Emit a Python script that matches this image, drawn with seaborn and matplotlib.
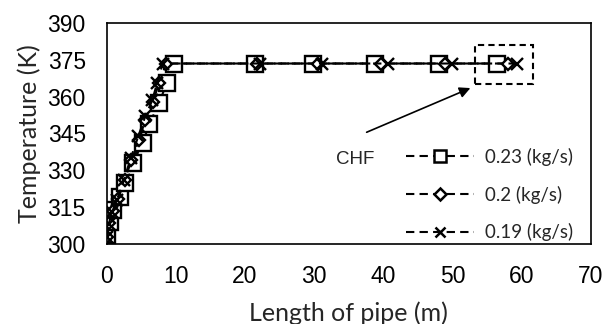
import matplotlib
matplotlib.use("Agg")
import matplotlib.pyplot as plt
import seaborn as sns
import pandas as pd
from matplotlib.patches import Rectangle

# Data
x_023 = [0, 0.5, 1.0, 1.9, 2.7, 3.8, 5.2, 6.2, 7.6, 8.7, 9.8, 21.4, 29.9, 38.8, 48.0, 56.5]
t_023 = [303.5, 309, 314, 319, 325, 333, 341, 349, 357.5, 365.5, 373.5, 373.5, 373.5, 373.5, 373.5, 373.5]
x_020 = [0, 0.4, 0.9, 1.7, 2.6, 3.6, 4.7, 5.6, 6.7, 7.6, 8.6, 21.8, 30.5, 39.7, 49.0, 58.0]
t_020 = [303, 308.5, 313.5, 318.5, 326, 334, 342.5, 350.5, 358, 365.5, 373.5, 373.5, 373.5, 373.5, 373.5, 373.5]
x_019 = [0, 0.3, 0.8, 1.5, 2.5, 3.5, 4.6, 5.6, 6.6, 7.3, 8.1, 22.2, 31.2, 40.7, 50.0, 59.4]
t_019 = [303, 308, 313, 318, 326, 335, 344, 352, 358.5, 365.5, 373.5, 373.5, 373.5, 373.5, 373.5, 373.5]
labels = ["0.23 (kg/s)", "0.2 (kg/s)", "0.19 (kg/s)"]
x_ticks = [0, 10, 20, 30, 40, 50, 60, 70]
y_ticks = [300, 315, 330, 345, 360, 375, 390]

sns.set_theme(style="white")
plt.rcParams['font.family'] = ['Liberation Sans', 'DejaVu Sans']

fig = plt.figure(figsize=(6.09, 3.24), dpi=100)
ax = fig.add_axes([0.175, 0.247, 0.795, 0.682])

series = [(x_023, t_023, 's', 12), (x_020, t_020, 'D', 6.5), (x_019, t_019, 'x', 8.5)]
for (xs, ts, mk, ms), lab in zip(series, labels):
    df = pd.DataFrame({"x": xs, "t": ts})
    sns.lineplot(data=df, x="x", y="t", ax=ax, sort=False, color='black',
                 linestyle=(0, (4, 2.5)), linewidth=1.5, marker=mk, markersize=ms,
                 markerfacecolor='white', markeredgecolor='black', markeredgewidth=1.7,
                 label=lab)

ax.set_xlim(0, 70)
ax.set_ylim(300, 390)
ax.set_xticks(x_ticks)
ax.set_yticks(y_ticks)
ax.tick_params(axis='both', direction='in', length=5, width=1, colors='black',
               labelsize=16.5)
ax.tick_params(axis='x', pad=15)
ax.tick_params(axis='y', pad=15)
for sp in ax.spines.values():
    sp.set_color('black')
    sp.set_linewidth(1.2)

ax.set_xlabel("Length of pipe (m)", fontsize=18, family=['Lato', 'DejaVu Sans'], labelpad=10)
ax.set_ylabel("Temperature (K)", fontsize=18, family=['Lato', 'DejaVu Sans'], labelpad=5)

# CHF box and annotation
ax.add_patch(Rectangle((53.2, 365.1), 8.5, 15.9, fill=False, edgecolor='black',
                       linestyle=(0, (3, 2)), linewidth=1.5))
ax.annotate("", xy=(52.6, 363.5), xytext=(37.6, 345.5),
            arrowprops=dict(arrowstyle='-|>', color='black', lw=1.2, mutation_scale=16,
                            shrinkA=0, shrinkB=0))
ax.text(36.0, 334.5, "CHF", fontsize=13.5, ha='center', va='center', family=['Liberation Sans'])

leg = ax.legend(loc='lower right', bbox_to_anchor=(0.985, -0.035), frameon=False,
                prop={'family': ['Lato', 'DejaVu Sans'], 'size': 13.5},
                handlelength=3.6, labelspacing=1.05, handletextpad=0.6, borderaxespad=0.15)
for h, s in zip(leg.legend_handles, [8, 6, 7]):
    h.set_markersize(s)
    h.set_markeredgewidth(1.8)

fig.savefig("out.png", dpi=100)
